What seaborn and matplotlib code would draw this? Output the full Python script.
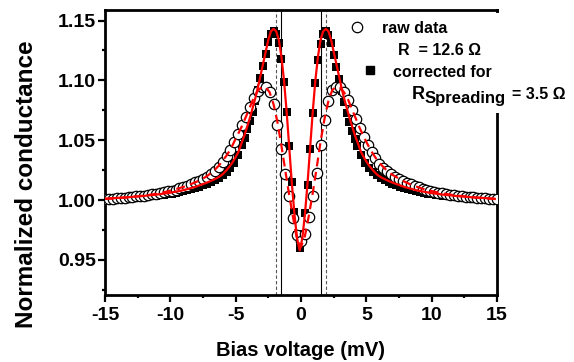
import matplotlib
matplotlib.use("Agg")
import matplotlib.pyplot as plt
import seaborn as sns
from matplotlib.ticker import MultipleLocator, FixedLocator
from matplotlib.patches import Rectangle
from matplotlib.lines import Line2D

# ---------------- data ----------------
bias_raw = [-15.0, -14.7, -14.4, -14.1, -13.8, -13.5, -13.2, -12.9, -12.6, -12.3,
            -12.0, -11.7, -11.4, -11.1, -10.8, -10.5, -10.2, -9.9, -9.6, -9.3,
            -9.0, -8.7, -8.4, -8.1, -7.8, -7.5, -7.2, -6.9, -6.6, -6.3,
            -6.0, -5.7, -5.4, -5.1, -4.8, -4.5, -4.2, -3.9, -3.6, -3.3,
            -3.0, -2.7, -2.4, -2.1, -1.8, -1.5, -1.2, -0.9, -0.6, -0.3,
            0.0, 0.3, 0.6, 0.9, 1.2, 1.5, 1.8, 2.1, 2.4, 2.7,
            3.0, 3.3, 3.6, 3.9, 4.2, 4.5, 4.8, 5.1, 5.4, 5.7,
            6.0, 6.3, 6.6, 6.9, 7.2, 7.5, 7.8, 8.1, 8.4, 8.7,
            9.0, 9.3, 9.6, 9.9, 10.2, 10.5, 10.8, 11.1, 11.4, 11.7,
            12.0, 12.3, 12.6, 12.9, 13.2, 13.5, 13.8, 14.1, 14.4, 14.7, 15.0]

g_raw = [1.0008, 1.0010, 1.0012, 1.0014, 1.0017, 1.0020, 1.0023, 1.0026, 1.0030, 1.0034,
         1.0038, 1.0043, 1.0048, 1.0054, 1.0060, 1.0066, 1.0073, 1.0080, 1.0088, 1.0097,
         1.0108, 1.0120, 1.0133, 1.0147, 1.0162, 1.0178, 1.0196, 1.0218, 1.0245, 1.0278,
         1.0318, 1.0365, 1.0420, 1.0485, 1.0555, 1.0625, 1.0697, 1.0777, 1.0855, 1.0914,
         1.0947, 1.0943, 1.0900, 1.0800, 1.0630, 1.0430, 1.0220, 1.0030, 0.9850, 0.9710,
         0.9660, 0.9720, 0.9860, 1.0030, 1.0230, 1.0460, 1.0670, 1.0830, 1.0920, 1.0948,
         1.0942, 1.0900, 1.0835, 1.0750, 1.0675, 1.0600, 1.0530, 1.0460, 1.0400, 1.0350,
         1.0305, 1.0270, 1.0240, 1.0215, 1.0195, 1.0177, 1.0160, 1.0145, 1.0131, 1.0118,
         1.0106, 1.0095, 1.0086, 1.0078, 1.0070, 1.0063, 1.0057, 1.0051, 1.0046, 1.0041,
         1.0037, 1.0033, 1.0029, 1.0026, 1.0023, 1.0020, 1.0017, 1.0014, 1.0012, 1.0010, 1.0008]

g_raw_fit = [1.0009, 1.0011, 1.0013, 1.0015, 1.0018, 1.0020, 1.0023, 1.0027, 1.0030, 1.0034,
             1.0038, 1.0042, 1.0047, 1.0052, 1.0058, 1.0065, 1.0073, 1.0082, 1.0091, 1.0100,
             1.0110, 1.0122, 1.0135, 1.0148, 1.0162, 1.0180, 1.0200, 1.0225, 1.0253, 1.0287,
             1.0328, 1.0372, 1.0422, 1.0490, 1.0555, 1.0623, 1.0700, 1.0780, 1.0858, 1.0915,
             1.0943, 1.0944, 1.0900, 1.0800, 1.0650, 1.0455, 1.0245, 1.0040, 0.9850, 0.9670,
             0.9610, 0.9700, 0.9870, 1.0060, 1.0270, 1.0490, 1.0680, 1.0830, 1.0920, 1.0948,
             1.0938, 1.0900, 1.0840, 1.0758, 1.0680, 1.0600, 1.0530, 1.0465, 1.0405, 1.0355,
             1.0312, 1.0276, 1.0245, 1.0218, 1.0198, 1.0180, 1.0160, 1.0145, 1.0130, 1.0118,
             1.0106, 1.0095, 1.0086, 1.0078, 1.0070, 1.0063, 1.0057, 1.0051, 1.0046, 1.0041,
             1.0037, 1.0033, 1.0029, 1.0026, 1.0023, 1.0020, 1.0017, 1.0014, 1.0012, 1.0010, 1.0008]

bias_corr = [-15.0, -14.7, -14.4, -14.1, -13.8, -13.5, -13.2, -12.9, -12.6, -12.3,
             -12.0, -11.7, -11.4, -11.1, -10.8, -10.5, -10.2, -9.9, -9.6, -9.3,
             -9.0, -8.7, -8.4, -8.1, -7.8, -7.5, -7.2, -6.9, -6.6, -6.3,
             -6.0, -5.7, -5.4, -5.1, -4.8, -4.5,
             -4.3, -4.1, -3.9, -3.7, -3.5, -3.3, -3.1, -2.9, -2.7, -2.5,
             -2.3, -2.1, -1.9, -1.7, -1.5, -1.3, -1.1, -0.9, -0.7, -0.5,
             -0.3, -0.1, 0.1, 0.3, 0.5, 0.7, 0.9, 1.1, 1.3, 1.5,
             1.7, 1.9, 2.1, 2.3, 2.5, 2.7, 2.9, 3.1, 3.3, 3.5,
             3.7, 3.9, 4.1, 4.3,
             4.6, 4.9, 5.2, 5.5, 5.8, 6.1, 6.4, 6.7, 7.0, 7.3,
             7.6, 7.9, 8.2, 8.5, 8.8, 9.1, 9.4, 9.7, 10.0, 10.3,
             10.6, 10.9, 11.2, 11.5, 11.8, 12.1, 12.4, 12.7, 13.0, 13.3,
             13.6, 13.9, 14.2, 14.5, 14.8]

g_corr = [1.0005, 1.0007, 1.0009, 1.0011, 1.0013, 1.0015, 1.0017, 1.0019, 1.0021, 1.0024,
          1.0027, 1.0030, 1.0033, 1.0036, 1.0040, 1.0044, 1.0049, 1.0054, 1.0060, 1.0066,
          1.0073, 1.0081, 1.0090, 1.0099, 1.0110, 1.0122, 1.0136, 1.0151, 1.0168, 1.0188,
          1.0210, 1.0236, 1.0266, 1.0310, 1.0375, 1.0460,
          1.052, 1.059, 1.066, 1.074, 1.083, 1.092, 1.102, 1.112, 1.122, 1.132,
          1.139, 1.1415, 1.139, 1.131, 1.118, 1.099, 1.074, 1.045, 1.015, 0.990,
          0.971, 0.960, 0.972, 0.989, 1.013, 1.043, 1.073, 1.098, 1.117, 1.130,
          1.139, 1.1415, 1.138, 1.131, 1.121, 1.111, 1.101, 1.091, 1.082, 1.073,
          1.065, 1.058, 1.051, 1.045,
          1.0375, 1.0310, 1.0266, 1.0236, 1.0210, 1.0188, 1.0168, 1.0151, 1.0136, 1.0122,
          1.0110, 1.0099, 1.0090, 1.0081, 1.0073, 1.0066, 1.0060, 1.0054, 1.0049, 1.0044,
          1.0040, 1.0036, 1.0033, 1.0030, 1.0027, 1.0024, 1.0021, 1.0019, 1.0017, 1.0015,
          1.0013, 1.0011, 1.0009, 1.0007, 1.0005]

g_corr_fit = [1.0012, 1.0014, 1.0016, 1.0018, 1.0020, 1.0022, 1.0024, 1.0027, 1.0030, 1.0032,
              1.0035, 1.0039, 1.0042, 1.0045, 1.0050, 1.0054, 1.0058, 1.0064, 1.0070, 1.0076,
              1.0083, 1.0092, 1.0101, 1.0110, 1.0122, 1.0134, 1.0146, 1.0160, 1.0175, 1.0192,
              1.0215, 1.0250, 1.0290, 1.0340, 1.0400, 1.0490,
              1.055, 1.062, 1.069, 1.077, 1.085, 1.094, 1.104, 1.114, 1.124, 1.134,
              1.141, 1.143, 1.141, 1.134, 1.120, 1.100, 1.074, 1.044, 1.014, 0.988,
              0.968, 0.958, 0.968, 0.988, 1.014, 1.044, 1.074, 1.100, 1.120, 1.134,
              1.141, 1.143, 1.141, 1.134, 1.124, 1.114, 1.104, 1.094, 1.085, 1.077,
              1.069, 1.062, 1.055, 1.049,
              1.0400, 1.0340, 1.0290, 1.0250, 1.0215, 1.0192, 1.0175, 1.0160, 1.0146, 1.0134,
              1.0122, 1.0110, 1.0101, 1.0092, 1.0083, 1.0076, 1.0070, 1.0064, 1.0058, 1.0054,
              1.0050, 1.0045, 1.0042, 1.0039, 1.0035, 1.0032, 1.0030, 1.0027, 1.0024, 1.0022,
              1.0020, 1.0018, 1.0016, 1.0014, 1.0012]

gap_solid = [-1.55, 1.55]
gap_dashed = [-1.9, 1.9]

x_ticks = [-15, -10, -5, 0, 5, 10, 15]
x_tick_labels = ["-15", "-10", "-5", "0", "5", "10", "15"]
y_ticks = [0.95, 1.00, 1.05, 1.10, 1.15]
y_tick_labels = ["0.95", "1.00", "1.05", "1.10", "1.15"]

legend_raw = "raw data"
legend_raw_r = "R  = 12.6 Ω"
legend_corr = "corrected for"
legend_corr_r = "R"
legend_corr_sub = "Spreading"
legend_corr_val = "= 3.5 Ω"

# ---------------- style ----------------
sns.set_style("ticks")
plt.rcParams["font.family"] = ["Liberation Sans", "DejaVu Sans"]
plt.rcParams["font.weight"] = "bold"
plt.rcParams["axes.labelweight"] = "bold"
for key in ["text.color", "axes.labelcolor", "xtick.color", "ytick.color",
            "xtick.labelcolor", "ytick.labelcolor", "axes.edgecolor"]:
    plt.rcParams[key] = "black"

W, H = 574, 362
fig = plt.figure(figsize=(W / 100, H / 100), dpi=100)
fig.patch.set_facecolor("white")
ax = fig.add_axes([105 / W, 1 - 295 / H, 392 / W, 285 / H])
ax.set_facecolor("white")

for v in gap_solid:
    ax.axvline(v, color="black", lw=0.8, zorder=1)
for v in gap_dashed:
    ax.axvline(v, color="#555555", lw=0.8, ls=(0, (3, 2)), zorder=1)

sns.scatterplot(x=bias_corr, y=g_corr, marker="s", s=38, color="black",
                linewidth=0, ax=ax, zorder=3)
sns.scatterplot(x=bias_raw, y=g_raw, marker="o", s=56, color="white",
                edgecolor="black", linewidth=0.9, ax=ax, zorder=4)
sns.lineplot(x=bias_corr, y=g_corr_fit, color="red", lw=1.6, sort=False,
             estimator=None, ax=ax, zorder=5)
sns.lineplot(x=bias_raw, y=g_raw_fit, color="red", lw=1.6, sort=False,
             estimator=None, ax=ax, zorder=6)
ax.lines[-1].set_dashes((4, 2.5))

ax.set_xlim(-15, 15)
ax.set_ylim(0.9207, 1.1588)
ax.xaxis.set_major_locator(FixedLocator(x_ticks))
ax.set_xticklabels(x_tick_labels)
ax.yaxis.set_major_locator(FixedLocator(y_ticks))
ax.set_yticklabels(y_tick_labels)
ax.xaxis.set_minor_locator(MultipleLocator(2.5))
ax.yaxis.set_minor_locator(MultipleLocator(0.025))

ax.tick_params(which="major", direction="out", length=5, width=1.6,
               labelsize=14, top=False, right=False, color="black",
               labelcolor="black")
ax.tick_params(which="minor", direction="out", length=2.5, width=1.6,
               top=False, right=False, color="black")
ax.tick_params(axis="x", which="major", pad=3.5)
ax.tick_params(axis="y", which="major", pad=1.5)
for lbl in ax.get_xticklabels() + ax.get_yticklabels():
    lbl.set_fontweight("bold")

for sp in ax.spines.values():
    sp.set_visible(True)
    sp.set_linewidth(2.0)
    sp.set_color("black")

ax.set_xlabel("Bias voltage (mV)", fontsize=14.5, fontweight="bold", color="black")
ax.set_ylabel("Normalized conductance", fontsize=17.5, fontweight="bold", color="black")
ax.xaxis.set_label_coords(0.5, -0.16)
ax.yaxis.set_label_coords(-0.17, 0.39)

# legend block (white background covering the upper right frame)
fig.add_artist(Rectangle((400 / W, 1 - 113 / H), (W - 400) / W, 100 / H,
                         transform=fig.transFigure, facecolor="white",
                         edgecolor="none", zorder=3))
fig.add_artist(Line2D([356.7 / W], [1 - 26.7 / H], transform=fig.transFigure,
                      marker="o", markersize=7.5, mfc="white", mec="black",
                      mew=0.9, ls="none", zorder=4))
fig.add_artist(Line2D([370 / W], [1 - 70 / H], transform=fig.transFigure,
                      marker="s", markersize=6.2, color="black", ls="none",
                      zorder=4))
fs = 11.5
fig.text(381.7 / W, 1 - 33.3 / H, legend_raw, fontsize=fs, fontweight="bold",
         va="baseline", ha="left", zorder=5)
fig.text(398.3 / W, 1 - 55 / H, legend_raw_r, fontsize=fs, fontweight="bold",
         va="baseline", ha="left", zorder=5)
fig.text(393.3 / W, 1 - 76.7 / H, legend_corr, fontsize=fs, fontweight="bold",
         va="baseline", ha="left", zorder=5)
fig.text(411.7 / W, 1 - 99 / H, legend_corr_r, fontsize=13, fontweight="bold",
         va="baseline", ha="left", zorder=5)
fig.text(424.5 / W, 1 - 103 / H, legend_corr_sub, fontsize=12, fontweight="bold",
         va="baseline", ha="left", zorder=5)
fig.text(511.7 / W, 1 - 99 / H, legend_corr_val, fontsize=fs, fontweight="bold",
         va="baseline", ha="left", zorder=5)

fig.savefig("out.png", dpi=100, facecolor="white")
